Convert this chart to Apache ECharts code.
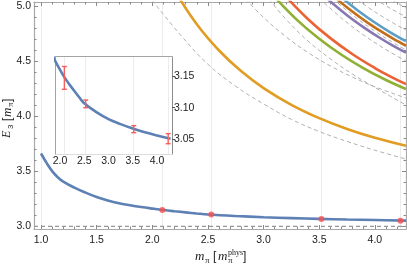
<!DOCTYPE html>
<html><head><meta charset="utf-8">
<script src="https://cdn.jsdelivr.net/npm/echarts@6/dist/echarts.min.js"></script>
<style>html,body{margin:0;padding:0;background:#fff}#c{width:407px;height:264px}</style>
</head><body><div id="c"></div>
<script>
// ---- data ----
const fitCurve = [[1.0,3.66],[1.05,3.575],[1.1,3.50],[1.15,3.445],[1.2,3.405],[1.3,3.35],[1.4,3.305],[1.5,3.265],[1.6,3.233],[1.7,3.208],[1.8,3.19],[1.9,3.174],[2.0,3.160],[2.1,3.147],[2.2,3.136],[2.3,3.126],[2.4,3.116],[2.5,3.107],[2.75,3.093],[3.0,3.082],[3.25,3.074],[3.5,3.067],[3.75,3.061],[4.0,3.056],[4.28,3.051]];
const latticeX = [2.09, 2.53, 3.52, 4.23];
const latticeE = [3.147, 3.106, 3.066, 3.051];
const latticeErr = [0.018, 0.006, 0.0055, 0.008];
const gridLinesX = [1.0, 2.09, 2.53, 3.52, 4.23];
const thresholdE = 3.0;

const levelOrange = [[2.2,5.139],[2.4,4.833],[2.6,4.595],[2.8,4.406],[3.0,4.254],[3.25,4.102],[3.5,3.981],[3.75,3.883],[4.0,3.803],[4.28,3.730]];
const levelGreen  = [[3.1,5.080],[3.3,4.873],[3.5,4.701],[3.7,4.556],[3.9,4.433],[4.1,4.327],[4.28,4.245]];
const levelRed    = [[3.2,5.085],[3.4,4.879],[3.6,4.707],[3.8,4.561],[4.0,4.436],[4.15,4.354],[4.28,4.290]];
const levelPurple = [[3.58,5.057],[3.75,4.915],[3.9,4.805],[4.05,4.706],[4.17,4.635],[4.28,4.575]];
const levelBrown  = [[3.66,5.059],[3.8,4.946],[3.95,4.837],[4.1,4.741],[4.2,4.682],[4.28,4.638]];
const levelBlue   = [[3.72,5.059],[3.85,4.956],[4.0,4.849],[4.15,4.753],[4.28,4.679]];

const freeL1 = [[2.0,5.05],[2.25,4.74],[2.5,4.47],[2.75,4.27],[3.0,4.11],[3.25,3.97],[3.5,3.86],[3.75,3.77],[4.0,3.69],[4.28,3.61]];
const freeA  = [[2.84,5.061],[3.0,4.895],[3.2,4.721],[3.4,4.576],[3.6,4.455],[3.8,4.353],[4.0,4.266],[4.28,4.163]];
const freeB  = [[3.05,5.06],[3.2,4.88],[3.4,4.68],[3.6,4.52],[3.8,4.38],[4.0,4.26],[4.28,4.10]];
const freeC  = [[3.5,5.07],[3.7,4.889],[3.9,4.735],[4.1,4.603],[4.28,4.50]];
const freeD  = [[3.62,5.068],[3.8,4.916],[4.0,4.77],[4.15,4.675],[4.28,4.60]];
const freeE  = [[3.84,5.057],[4.0,4.946],[4.15,4.853],[4.28,4.78]];
const freeF  = [[4.0,5.063],[4.15,4.971],[4.28,4.90]];
const freeG  = [[4.16,5.05],[4.28,4.98]];

const xMajor = [1.0,1.5,2.0,2.5,3.0,3.5,4.0];
const xMinor = [1.1,1.2,1.3,1.4,1.6,1.7,1.8,1.9,2.1,2.2,2.3,2.4,2.6,2.7,2.8,2.9,3.1,3.2,3.3,3.4,3.6,3.7,3.8,3.9,4.1,4.2];
const yMajor = [3.0,3.5,4.0,4.5,5.0];
const yMinor = [3.1,3.2,3.3,3.4,3.6,3.7,3.8,3.9,4.1,4.2,4.3,4.4,4.6,4.7,4.8,4.9];
const insetXTicks = [2.0,2.5,3.0,3.5,4.0];
const insetYTicks = [3.05,3.10,3.15];

// ---- styles ----
const FRAME = '#a8a8a8';
const TICK = '#8a8a8a';
const LABEL = '#222';
const FONT = 'Liberation Sans';
const pal = {blue:'#5E81B5', orange:'#E19C24', green:'#8FB032', red:'#EB6235', purple:'#8778B3', brown:'#C56E1A', lblue:'#5D9EC7'};

function xAx(opts){
  return Object.assign({type:'value', gridIndex:0, min:0.937, max:4.28, position:'bottom',
    axisLine:{show:false}, splitLine:{show:false}, axisLabel:{show:false}, axisTick:{show:false}}, opts);
}
function yAx(opts){
  return Object.assign({type:'value', gridIndex:0, min:2.975, max:5.035, position:'left',
    axisLine:{show:false}, splitLine:{show:false}, axisLabel:{show:false}, axisTick:{show:false}}, opts);
}
const lineFrame = {show:true, onZero:false, lineStyle:{color:FRAME, width:1.2}};

const xAxes = [
  xAx({axisLine:lineFrame, axisTick:{show:true, inside:true, length:4, customValues:xMajor, lineStyle:{color:TICK}},
       axisLabel:{show:true, customValues:xMajor, formatter:v=>v.toFixed(1), color:LABEL, fontFamily:FONT, fontSize:10.5, margin:6}}),
  xAx({axisTick:{show:true, inside:true, length:2.5, customValues:xMinor, lineStyle:{color:TICK}}}),
  xAx({position:'top', axisLine:lineFrame, axisTick:{show:true, inside:true, length:4, customValues:xMajor, lineStyle:{color:TICK}}}),
  xAx({position:'top', axisTick:{show:true, inside:true, length:2.5, customValues:xMinor, lineStyle:{color:TICK}}}),
  // inset
  {type:'value', gridIndex:1, min:1.918, max:4.309, position:'bottom', splitLine:{show:false},
   axisLine:{show:true, onZero:false, lineStyle:{color:'#dcdcdc', width:1}},
   axisTick:{show:false},
   axisLabel:{show:true, customValues:insetXTicks, formatter:v=>v.toFixed(1), color:LABEL, fontFamily:FONT, fontSize:10.5, margin:2}},
  {type:'value', gridIndex:1, min:1.918, max:4.309, position:'top', splitLine:{show:false},
   axisLine:{show:true, onZero:false, lineStyle:{color:'#a4a4a4', width:2}}, axisTick:{show:false}, axisLabel:{show:false}}
];
const yAxes = [
  yAx({axisLine:lineFrame, axisTick:{show:true, inside:true, length:4, customValues:yMajor, lineStyle:{color:TICK}},
       axisLabel:{show:true, customValues:yMajor, formatter:v=>v.toFixed(1), color:LABEL, fontFamily:FONT, fontSize:10.5, margin:3}}),
  yAx({axisTick:{show:true, inside:true, length:2.5, customValues:yMinor, lineStyle:{color:TICK}}}),
  yAx({position:'right', axisLine:lineFrame, axisTick:{show:true, inside:true, length:4, customValues:yMajor, lineStyle:{color:TICK}}}),
  yAx({position:'right', axisTick:{show:true, inside:true, length:2.5, customValues:yMinor, lineStyle:{color:TICK}}}),
  // inset
  {type:'value', gridIndex:1, min:3.0268, max:3.18, position:'right', splitLine:{show:false},
   axisLine:{show:true, onZero:false, lineStyle:{color:'#8a8a8a', width:1}},
   axisTick:{show:true, inside:false, length:3, customValues:insetYTicks, lineStyle:{color:'#555'}},
   axisLabel:{show:true, customValues:insetYTicks, formatter:v=>v.toFixed(2), color:LABEL, fontFamily:FONT, fontSize:10.5, margin:2}},
  {type:'value', gridIndex:1, min:3.0268, max:3.18, position:'left', splitLine:{show:false},
   axisLine:{show:true, onZero:false, lineStyle:{color:'#a4a4a4', width:2}}, axisTick:{show:false}, axisLabel:{show:false}}
];

function curve(data, color, dashed){
  return {type:'line', xAxisIndex:0, yAxisIndex:0, data:data, smooth:0.4, showSymbol:false, silent:true, z:dashed?3:4,
    lineStyle: dashed ? {color:'#b0b0b0', width:1, type:[4,3]} : {color:color, width:2.6}};
}

const series = [
  {type:'line', xAxisIndex:0, yAxisIndex:0, data:[], z:0, silent:true,
   markLine:{silent:true, symbol:['none','none'], label:{show:false}, animation:false, z:0,
     lineStyle:{color:'#ececec', type:'solid', width:1},
     data: gridLinesX.map(x=>({xAxis:x}))}},
  {type:'line', xAxisIndex:0, yAxisIndex:0, data:[], z:5, silent:true,
   markLine:{silent:true, symbol:['none','none'], label:{show:false}, animation:false, precision:3,
     lineStyle:{color:'#999999', type:[4,3], width:1},
     data:[{yAxis:thresholdE}]}},
  {type:'line', xAxisIndex:0, yAxisIndex:0, z:5, silent:true, showSymbol:false,
   data:[[0.937, thresholdE],[4.28, thresholdE]],
   lineStyle:{color:'#999999', type:[4,3], width:1}},
  curve(freeL1,null,true), curve(freeA,null,true), curve(freeB,null,true), curve(freeC,null,true),
  curve(freeD,null,true), curve(freeE,null,true), curve(freeF,null,true), curve(freeG,null,true),
  curve(levelOrange, pal.orange), curve(levelGreen, pal.green), curve(levelRed, pal.red),
  curve(levelPurple, pal.purple), curve(levelBrown, pal.brown), curve(levelBlue, pal.lblue),
  curve(fitCurve, pal.blue),
  {type:'scatter', xAxisIndex:0, yAxisIndex:0, z:6, symbolSize:6, silent:true,
   itemStyle:{color:'#F5504F'}, data: latticeX.map((x,i)=>[x, latticeE[i]])},
  // inset
  {type:'line', xAxisIndex:4, yAxisIndex:4, data:[], z:2, silent:true,
   markLine:{silent:true, symbol:['none','none'], label:{show:false}, animation:false,
     lineStyle:{color:'#ececec', type:'solid', width:1},
     data: latticeX.map(x=>({xAxis:x}))}},
  {type:'line', xAxisIndex:4, yAxisIndex:4, data:fitCurve, smooth:0.4, showSymbol:false, silent:true, z:4,
   lineStyle:{color:pal.blue, width:2.6}},
  {type:'custom', xAxisIndex:4, yAxisIndex:4, z:6, silent:true,
   data: latticeX.map((x,i)=>[x, latticeE[i]-latticeErr[i], latticeE[i]+latticeErr[i]]),
   renderItem:function(params, api){
     const lo = api.coord([api.value(0), api.value(1)]);
     const hi = api.coord([api.value(0), api.value(2)]);
     const w = 2.5;
     const st = {stroke:'#F5504F', lineWidth:1.4, opacity:0.9};
     return {type:'group', children:[
       {type:'line', shape:{x1:lo[0], y1:lo[1], x2:hi[0], y2:hi[1]}, style:st},
       {type:'line', shape:{x1:lo[0]-w, y1:lo[1], x2:lo[0]+w, y2:lo[1]}, style:st},
       {type:'line', shape:{x1:hi[0]-w, y1:hi[1], x2:hi[0]+w, y2:hi[1]}, style:st}
     ]};
   }}
];

const SERIF = 'Liberation Serif';
function t(x,y,text,font,extra){ return Object.assign({type:'text', x:x, y:y, silent:true,
  style:{text:text, font:font, fill:LABEL, align:'left', verticalAlign:'middle'}}, extra||{}); }

const graphic = [
  {type:'group', silent:true, children:[
    t(195,257,'m','italic 13px '+SERIF),
    t(205,260.3,'π','9px '+SERIF),
    t(213,256.8,'[','12px '+FONT),
    t(218,257,'m','italic 13px '+SERIF),
    t(228,253.4,'phys','8px '+SERIF),
    t(228,260.3,'π','9px '+SERIF),
    t(243,256.8,']','12px '+FONT)
  ]},
  {type:'group', x:11.5, y:117, rotation:Math.PI/2, silent:true, children:[
    t(-21,-4.4,'E','italic 12px '+SERIF),
    t(-12,-1.0,'3','8px '+FONT),
    t(-4,-4.2,'[','12px '+FONT),
    t(0,-4.4,'m','italic 13px '+SERIF),
    t(10,-1.0,'π','9px '+SERIF),
    t(15,-4.2,']','12px '+FONT)
  ]}
];

const chart = echarts.init(document.getElementById('c'), null, {renderer:'canvas'});
chart.setOption({
  animation:false,
  backgroundColor:'#fff',
  grid:[
    {left:34, top:2, right:1, bottom:35, containLabel:false},
    {left:56, top:57, right:235, bottom:110, show:true, backgroundColor:'#fff', borderWidth:0, z:1}
  ],
  xAxis:xAxes, yAxis:yAxes, series:series, graphic:graphic
});
</script></body></html>
